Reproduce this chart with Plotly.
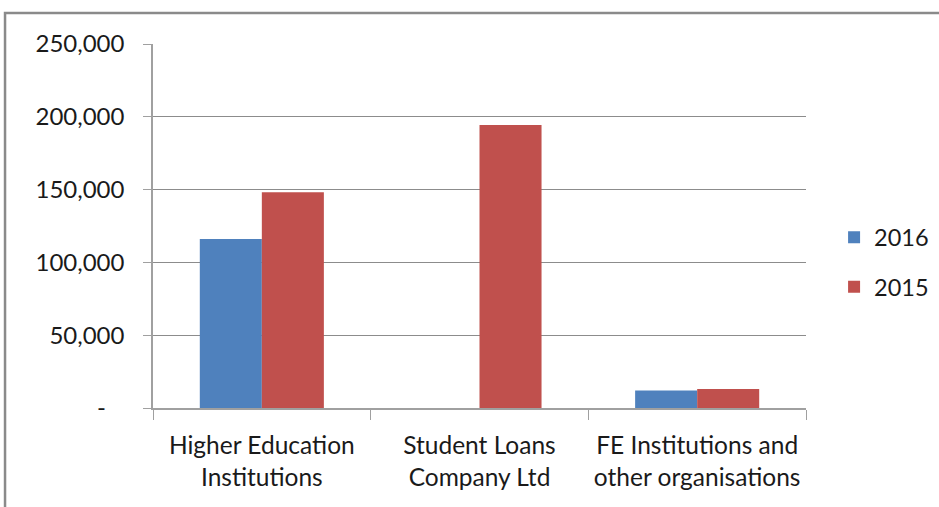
import plotly.graph_objects as go

categories = ["Higher Education<br>Institutions", "Student Loans<br>Company Ltd", "FE Institutions and<br>other organisations"]
series_names = ["2016", "2015"]
values_2016 = [116000, None, 12100]
values_2015 = [148100, 194400, 13100]
tick_vals = [0, 50000, 100000, 150000, 200000, 250000]
tick_text = ["-\u00a0\u00a0\u00a0", "50,000", "100,000", "150,000", "200,000", "250,000"]
colors = ["#4F81BD", "#C0504D"]

FONT = "Lato"
TXT = "#1A1A1A"

fig = go.Figure()
for name, vals, col, grp in zip(series_names, [values_2016, values_2015], colors, ["a", "b"]):
    fig.add_trace(go.Bar(
        x=categories, y=vals, name=name, marker_color=col,
        marker_line_width=0, legendgroup=grp,
    ))

fig.update_layout(
    width=939, height=507,
    margin=dict(l=153, r=133, t=44, b=99, autoexpand=False),
    paper_bgcolor="white", plot_bgcolor="white",
    barmode="group", bargap=0.43, bargroupgap=0,
    font=dict(family=FONT, size=23, color=TXT),
    legend=dict(
        x=1.043, xanchor="left", y=0.40, yanchor="middle",
        font=dict(family=FONT, size=23.5, color=TXT),
        tracegroupgap=16, itemwidth=30,
    ),
    showlegend=True,
)
fig.update_xaxes(
    type="category", tickson="boundaries", ticks="outside", ticklen=10,
    tickcolor="#A0A0A0", showline=True, linecolor="#A0A0A0", linewidth=1.5,
    showgrid=False, ticklabelstandoff=15, tickangle=0, automargin=False,
    tickfont=dict(family=FONT, size=24.5, color=TXT),
)
fig.update_yaxes(
    range=[0, 250000], tickvals=tick_vals, ticktext=tick_text,
    ticks="outside", ticklen=8, tickcolor="#A0A0A0",
    showline=True, linecolor="#A0A0A0", linewidth=1.5,
    showgrid=True, gridcolor="#8C8C8C", gridwidth=1,
    zeroline=False, ticklabelstandoff=14, automargin=False,
    tickfont=dict(family=FONT, size=24, color=TXT),
)
fig.add_shape(type="rect", xref="paper", yref="paper",
              x0=-0.2266, x1=1.3, y0=-0.5, y1=1.085,
              line=dict(color="#8A8A8A", width=2.5), layer="below")

fig.write_html("out.html", config={"displayModeBar": False},
               post_script="document.body.style.margin='0';")
